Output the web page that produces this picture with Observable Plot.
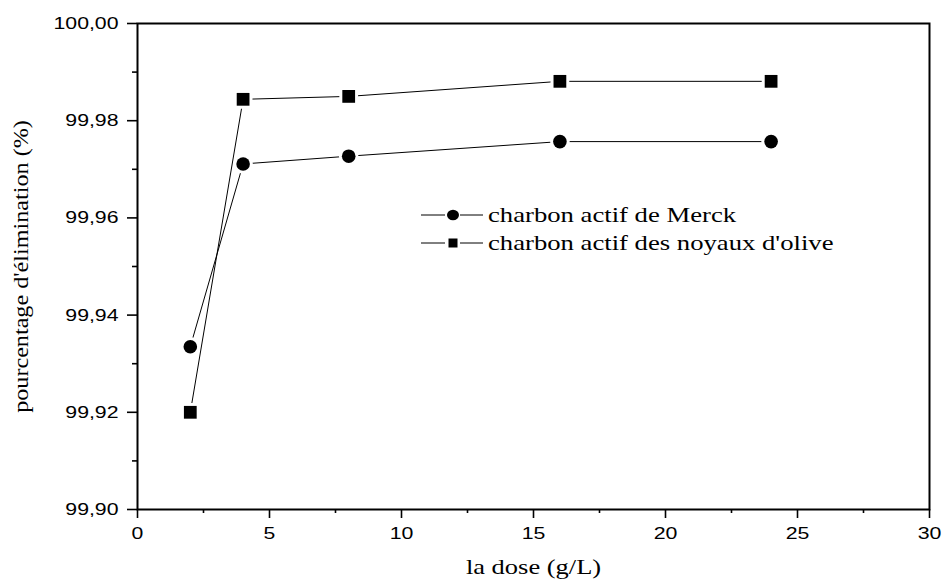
<!DOCTYPE html>
<html><head><meta charset="utf-8">
<script src="https://cdn.jsdelivr.net/npm/d3@7"></script>
<script src="https://cdn.jsdelivr.net/npm/@observablehq/plot@0.6"></script>
<style>
body{margin:0;background:#fff;}
#wrap{position:relative;width:942px;height:580px;}
#wrap svg.plot text{font-family:"Liberation Sans",Arial,sans-serif;}
#wrap g[aria-label="x-axis label"] text,#wrap g[aria-label="y-axis label"] text{font-family:"Liberation Serif","Times New Roman",serif;font-size:21px;}
#legend{position:absolute;left:421px;top:201px;font-family:"Liberation Serif","Times New Roman",serif;font-size:21px;line-height:28px;color:#000;}
#legend div{display:flex;align-items:center;height:28px;white-space:nowrap;}
#legend svg{margin-right:5px;}
#legend span{display:inline-block;transform:scaleX(1.27);transform-origin:left center;}
</style></head>
<body><div id="wrap"></div>
<script>
const doses = [2, 4, 8, 16, 24];
const merck = [99.9335, 99.9711, 99.9727, 99.9757, 99.9757];
const olive = [99.9200, 99.9844, 99.9850, 99.9881, 99.9881];
const seriesNames = ["charbon actif de Merck", "charbon actif des noyaux d'olive"];
const xTicks = [0, 5, 10, 15, 20, 25, 30];
const xMinor = [2.5, 7.5, 12.5, 17.5, 22.5, 27.5];
const yTicks = [99.90, 99.92, 99.94, 99.96, 99.98, 100.00];
const yMinor = [99.91, 99.93, 99.95, 99.97, 99.99];

const rows = [];
doses.forEach((d, i) => {
  rows.push({s: seriesNames[0], x: d, y: merck[i], sym: "circle"});
  rows.push({s: seriesNames[1], x: d, y: olive[i], sym: "square"});
});
const fmt = d => d.toFixed(2).replace(".", ",");

const chart = Plot.plot({
  width: 942, height: 580,
  marginLeft: 137, marginRight: 13, marginTop: 23, marginBottom: 71,
  x: {domain: [0, 30]},
  y: {domain: [99.90, 100.00]},
  style: {fontSize: "17px", color: "#000", background: "#fff"},
  marks: [
    Plot.axisX({ticks: xMinor, tickSize: 4, text: null, strokeWidth: 1.6, label: null}),
    Plot.axisX({ticks: xTicks, tickSize: 9, tickPadding: 8, strokeWidth: 1.6, label: "la dose (g/L)", labelAnchor: "center", labelOffset: 64, labelArrow: "none"}),
    Plot.axisY({ticks: yMinor, tickSize: 5, text: null, strokeWidth: 1.6, label: null}),
    Plot.axisY({ticks: yTicks, tickSize: 10, tickPadding: 9, tickFormat: fmt, strokeWidth: 1.6, label: "pourcentage d'élimination (%)", labelAnchor: "center", labelOffset: 124, labelArrow: "none"}),
    Plot.frame({stroke: "#000", strokeWidth: 2}),
    Plot.line(rows, {x: "x", y: "y", z: "s", stroke: "#000", strokeWidth: 1}),
    Plot.dot(rows.filter(r => r.sym === "circle"), {x: "x", y: "y", symbol: "circle", r: 6.8, fill: "#000", stroke: "#fff", strokeWidth: 6, paintOrder: "stroke"}),
    Plot.dot(rows.filter(r => r.sym === "square"), {x: "x", y: "y", symbol: "square", r: 7.2, fill: "#000", stroke: "#fff", strokeWidth: 6, paintOrder: "stroke"})
  ]
});
chart.classList.add("plot");
const wrap = document.getElementById("wrap");
wrap.appendChild(chart);

// horizontal stretch of the reference's text
function stretch(sel, factor) {
  chart.querySelectorAll(sel).forEach(t => {
    const len = t.getComputedTextLength();
    if (len > 0) {
      t.setAttribute("textLength", (len * factor).toFixed(1));
      t.setAttribute("lengthAdjust", "spacingAndGlyphs");
    }
  });
}
stretch('g[aria-label="x-axis tick label"] text', 1.25);
stretch('g[aria-label="y-axis tick label"] text', 1.25);
stretch('g[aria-label="x-axis label"] text', 1.26);
stretch('g[aria-label="y-axis label"] text', 1.15);

const legend = document.createElement("div");
legend.id = "legend";
const sym = [
  '<ellipse cx="32" cy="9" rx="6" ry="5.3" fill="#000"/>',
  '<rect x="27.5" y="4.5" width="9" height="9" fill="#000"/>'
];
seriesNames.forEach((n, i) => {
  const row = document.createElement("div");
  row.innerHTML = `<svg width="62" height="18"><line x1="0" x2="24" y1="9" y2="9" stroke="#000" stroke-width="1"/><line x1="39" x2="62" y1="9" y2="9" stroke="#000" stroke-width="1"/>${sym[i]}</svg><span>${n}</span>`;
  legend.appendChild(row);
});
wrap.appendChild(legend);
</script></body></html>
